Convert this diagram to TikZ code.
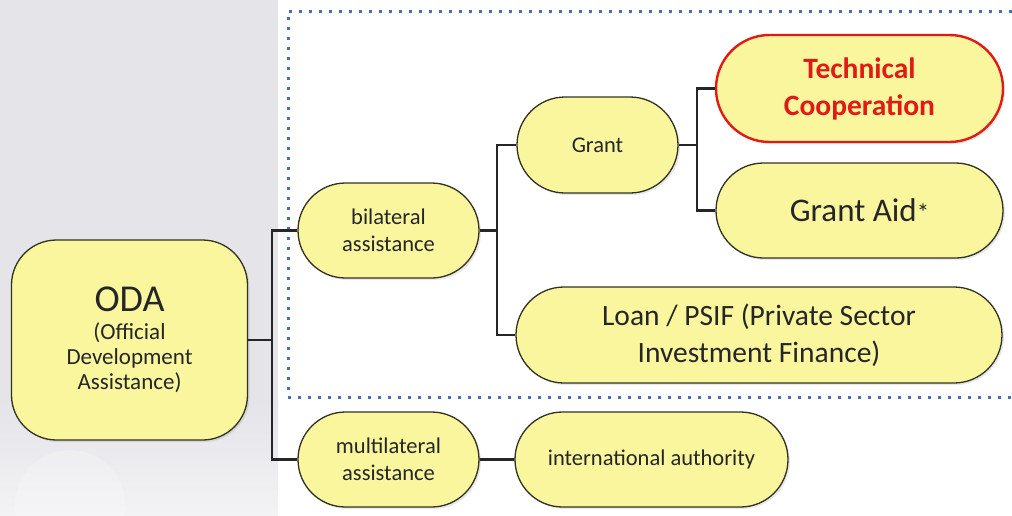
\documentclass[tikz,border=0pt]{standalone}
\usepackage{fontspec}
\setmainfont{Carlito}
\usetikzlibrary{shapes.misc,shadows}
\definecolor{panelgray}{RGB}{228,228,233}
\definecolor{boxfill}{RGB}{250,246,158}
\definecolor{boxline}{RGB}{50,50,35}
\definecolor{tcred}{RGB}{226,26,22}
\definecolor{dotblue}{RGB}{70,110,185}
\begin{document}
\begin{tikzpicture}[x=1pt,y=-1pt,
    boxbase/.style={draw=boxline,line width=1.3pt,fill=boxfill,
        align=center,text=black!85,inner sep=0pt,
        drop shadow={shadow xshift=2pt,shadow yshift=-2pt,opacity=0.18}},
    box/.style={boxbase,rounded rectangle},
    smalltext/.style={font=\fontsize{22.5}{27}\selectfont},
    bigtext/.style={font=\fontsize{29.5}{37}\selectfont},
    link/.style={draw=black!85,line width=2.6pt}]
    % background and the left panel
    \useasboundingbox (0,0) rectangle (1012,515);
    \fill[white] (0,0) rectangle (1012,515);
    \fill[panelgray] (0,0) rectangle (278,515);
    \shade[top color=panelgray,bottom color=panelgray!45!white] (0,400) rectangle (278,515);
    \fill[white,opacity=0.2] (70,505) circle (55);
    % dotted frame round the bilateral part
    \draw[dotblue,line width=3pt,dash pattern=on 3pt off 7pt]
        (1012,11) -- (288,11) -- (288,397) -- (1012,397);

    % the boxes
    \node[boxbase,rounded corners=45pt,minimum width=236pt,minimum height=200pt,
        font=\fontsize{23}{25}\selectfont] (oda) at (129.5,340)
        {{\fontsize{38}{40}\selectfont ODA}\\[3pt](Official\\Development\\Assistance)};
    \node[box,smalltext,minimum width=181pt,minimum height=95pt] (bil) at (388.5,230.5) {bilateral\\assistance};
    \node[box,smalltext,minimum width=181pt,minimum height=95pt] (multi) at (388.5,459.5) {multilateral\\assistance};
    \node[box,smalltext,minimum width=161pt,minimum height=96pt] (grant) at (597.5,145) {Grant};
    \node[box,draw=tcred,line width=2.4pt,text=tcred,font=\bfseries\fontsize{29.5}{37}\selectfont,
        minimum width=287pt,minimum height=107pt] (tc) at (859.5,88.5) {Technical\\Cooperation};
    \node[box,font=\fontsize{33}{37}\selectfont,minimum width=287pt,minimum height=95pt] (ga) at (859.5,210.5)
        {Grant Aid{\fontsize{25}{25}\selectfont*}};
    \node[box,bigtext,minimum width=486pt,minimum height=96pt] (loan) at (759,335)
        {Loan / PSIF (Private Sector\\Investment Finance)};
    \node[box,smalltext,minimum width=273pt,minimum height=95pt] (intl) at (651.5,459.5) {international authority};

    % forks of the tree
    \coordinate (fA) at (272,340);
    \coordinate (fB) at (497,230.5);
    \coordinate (fC) at (697,145);
    \foreach \a/\b in {oda/fA, bil/fB, grant/fC}
        \draw[link] (\a.east) -- (\b);
    \foreach \a/\b in {fA/bil, fA/multi, fB/grant, fB/loan, fC/tc, fC/ga}
        \draw[link] (\a) |- (\b.west);
    \draw[link] (multi) -- (intl);
\end{tikzpicture}
\end{document}
